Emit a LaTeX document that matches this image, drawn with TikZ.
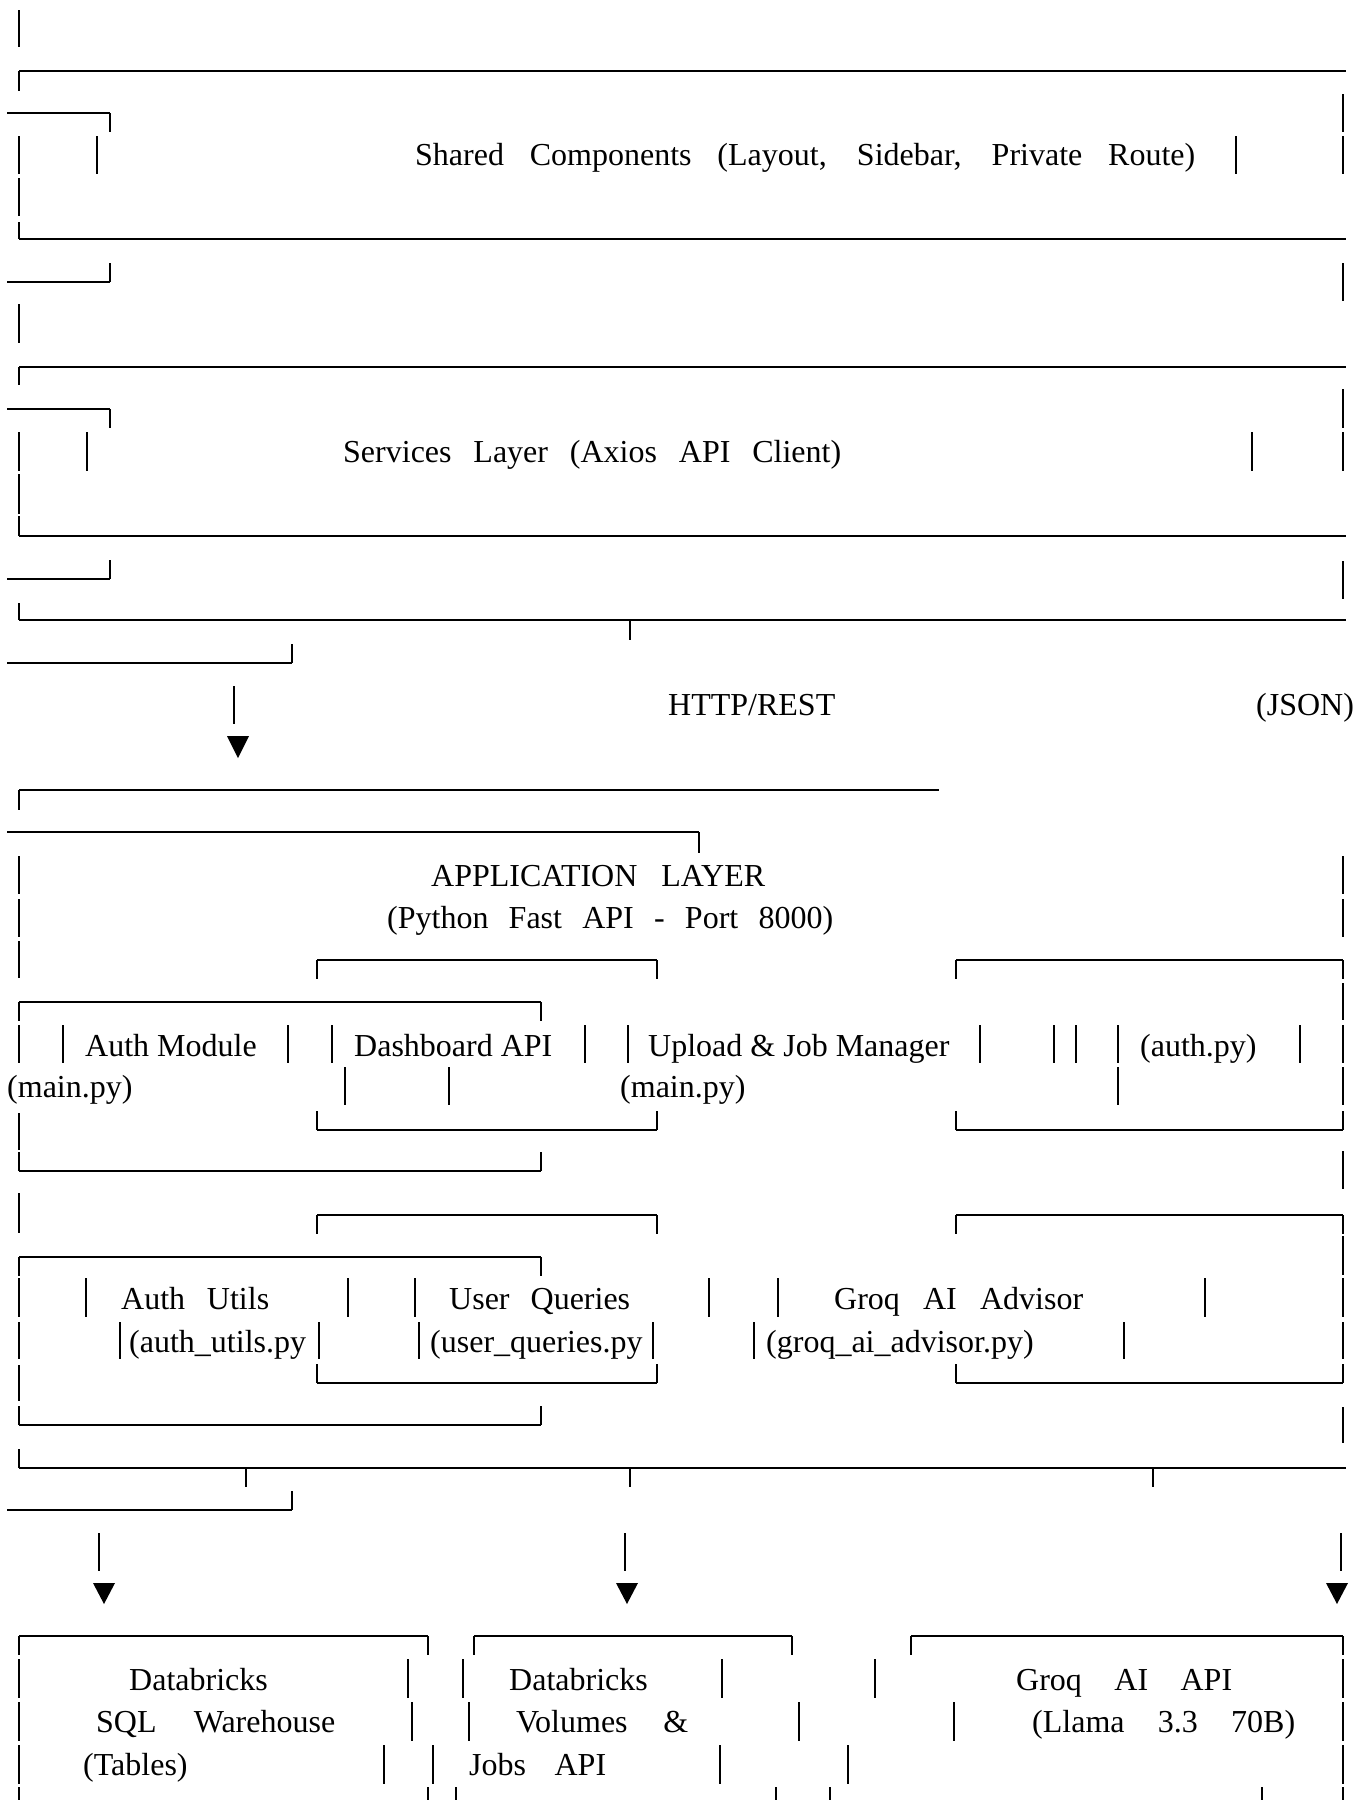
\documentclass[tikz,border=0pt]{standalone}
\usepackage{fontspec}
\setmainfont{Liberation Serif}
\usetikzlibrary{arrows.meta}
\tikzset{
  hbar/.style={line width=2.4pt},
  vbar/.style={line width=1.8pt},
  txt/.style={anchor=base west, inner sep=0pt, font=\fontsize{32}{38}\selectfont},
  tip/.style={fill=black},
}
\newcommand{\spread}[2]{\makebox[#1pt][s]{#2}}
\newcommand{\boxtop}[3]{\draw[hbar] (#1,#3) -- (#2,#3);
  \draw[vbar] (#1,#3) -- ++(0,19); \draw[vbar] (#2,#3) -- ++(0,19);}
\newcommand{\boxbot}[3]{\draw[hbar] (#1,#3) -- (#2,#3);
  \draw[vbar] (#1,#3) -- ++(0,-19); \draw[vbar] (#2,#3) -- ++(0,-19);}

\begin{document}
\begin{tikzpicture}[x=1pt, y=-1pt]
  \useasboundingbox (0,0) rectangle (1370,1800);

  % Shared components
  \draw[vbar] (19,10) -- (19,47);
  \draw[hbar] (19,71) -- (1346,71);  \draw[vbar] (19,71) -- (19,91);
  \draw[hbar] (7,113) -- (110,113);  \draw[vbar] (110,113) -- (110,132);
  \draw[vbar] (1343,94) -- (1343,132);
  \foreach \x in {19,97,1236,1343} \draw[vbar] (\x,136) -- (\x,174);
  \node[txt] (shared) at (415,165) {\spread{780}{Shared Components (Layout, Sidebar, Private Route)}};
  \draw[vbar] (19,178) -- (19,216);
  \draw[hbar] (19,239) -- (1346,239); \draw[vbar] (19,222) -- (19,239);
  \draw[hbar] (7,282) -- (110,282);   \draw[vbar] (110,263) -- (110,282);
  \draw[vbar] (1343,263) -- (1343,301);
  \draw[vbar] (19,304) -- (19,343);

  % Services layer
  \draw[hbar] (19,367) -- (1346,367); \draw[vbar] (19,367) -- (19,385);
  \draw[hbar] (7,409) -- (110,409);   \draw[vbar] (110,409) -- (110,428);
  \draw[vbar] (1343,389) -- (1343,428);
  \foreach \x in {19,87,1252,1343} \draw[vbar] (\x,432) -- (\x,471);
  \node[txt] (services) at (343,462) {\spread{498}{Services Layer (Axios API Client)}};
  \draw[vbar] (19,474) -- (19,514);
  \draw[hbar] (19,536) -- (1346,536); \draw[vbar] (19,516) -- (19,536);
  \draw[hbar] (7,579) -- (110,579);   \draw[vbar] (110,560) -- (110,579);
  \draw[vbar] (1343,561) -- (1343,599);
  \draw[vbar] (19,603) -- (19,620);
  \draw[hbar] (19,620) -- (1346,620); \draw[vbar] (630,620) -- (630,640);
  \draw[hbar] (7,663) -- (292,663);   \draw[vbar] (292,644) -- (292,663);

  % HTTP/REST link
  \draw[vbar] (234,686) -- (234,724);
  \node[txt] (http) at (668,715) {HTTP/REST};
  \node[txt] (json) at (1256,715) {(JSON)};
  \fill[tip] (227,736) -- (249,736) -- (238,758) -- cycle;

  % Application layer
  \draw[hbar] (19,790) -- (939,790);  \draw[vbar] (19,790) -- (19,810);
  \draw[hbar] (7,832) -- (699,832);   \draw[vbar] (699,832) -- (699,853);
  \foreach \x in {19,1343} \draw[vbar] (\x,856) -- (\x,894);
  \node[txt] (app) at (431,886) {\spread{334}{APPLICATION LAYER}};
  \foreach \x in {19,1343} \draw[vbar] (\x,899) -- (\x,937);
  \node[txt] (fastapi) at (387,928) {\spread{446}{(Python Fast API - Port 8000)}};
  \draw[vbar] (19,941) -- (19,978);
  \boxtop{317}{657}{960} \boxtop{956}{1343}{960}
  \draw[vbar] (1343,983) -- (1343,1020);
  \boxtop{19}{541}{1002}
  \foreach \x in {19,63,288,332,585,628,980,1054,1076,1118,1300,1343}
    \draw[vbar] (\x,1025) -- (\x,1063);
  \node[txt] (authmod) at (85,1056) {Auth Module};
  \node[txt] (dash) at (354,1056) {Dashboard API};
  \node[txt] (upload) at (648,1056) {Upload \& Job Manager};
  \node[txt] (authpy) at (1140,1056) {(auth.py)};
  \foreach \x in {345,449,1118,1343} \draw[vbar] (\x,1067) -- (\x,1105);
  \node[txt] (mainA) at (7,1097) {(main.py)};
  \node[txt] (mainB) at (620,1097) {(main.py)};
  \boxbot{317}{657}{1130} \boxbot{956}{1343}{1130}
  \draw[vbar] (19,1113) -- (19,1150);
  \boxbot{19}{541}{1171}
  \draw[vbar] (1343,1151) -- (1343,1189);
  \draw[vbar] (19,1193) -- (19,1233);
  \boxtop{317}{657}{1215} \boxtop{956}{1343}{1215}
  \draw[vbar] (1343,1236) -- (1343,1275);
  \boxtop{19}{541}{1257}
  \foreach \x in {19,86,348,415,709,778,1205,1343} \draw[vbar] (\x,1278) -- (\x,1317);
  \node[txt] (authutils) at (121,1309) {\spread{148}{Auth Utils}};
  \node[txt] (userq) at (449,1309) {\spread{181}{User Queries}};
  \node[txt] (groqadv) at (834,1309) {\spread{249}{Groq AI Advisor}};
  \foreach \x in {19,120,319,419,653,754,1124,1343} \draw[vbar] (\x,1322) -- (\x,1359);
  \node[txt] (authutilspy) at (129,1352) {(auth\_utils.py};
  \node[txt] (userqpy) at (430,1352) {(user\_queries.py};
  \node[txt] (groqadvpy) at (766,1352) {(groq\_ai\_advisor.py)};
  \boxbot{317}{657}{1383} \boxbot{956}{1343}{1383}
  \draw[vbar] (19,1365) -- (19,1401);
  \boxbot{19}{541}{1425}
  \draw[vbar] (1343,1407) -- (1343,1443);
  \draw[vbar] (19,1449) -- (19,1468);
  \draw[hbar] (19,1468) -- (1346,1468);
  \foreach \x in {246,630,1153} \draw[vbar] (\x,1468) -- (\x,1487);
  \draw[hbar] (7,1510) -- (292,1510); \draw[vbar] (292,1491) -- (292,1510);

  % Links to data services
  \foreach \x in {99,625,1341} \draw[vbar] (\x,1533) -- (\x,1571);
  \foreach \x in {104,627,1337} \fill[tip] (\x-11,1583) -- (\x+11,1583) -- (\x,1604) -- cycle;

  % Data services
  \boxtop{19}{428}{1636} \boxtop{474}{792}{1636} \boxtop{911}{1343}{1636}
  \foreach \x in {19,408,463,722,875,1343} \draw[vbar] (\x,1659) -- (\x,1698);
  \node[txt] (dbsql) at (129,1690) {Databricks};
  \node[txt] (dbvol) at (509,1690) {Databricks};
  \node[txt] (groqapi) at (1016,1690) {\spread{216}{Groq AI API}};
  \foreach \x in {19,412,469,799,954,1343} \draw[vbar] (\x,1702) -- (\x,1741);
  \node[txt] (sqlwh) at (96,1732) {\spread{239}{SQL Warehouse}};
  \node[txt] (volumes) at (516,1732) {\spread{172}{Volumes \&}};
  \node[txt] (llama) at (1032,1732) {\spread{263}{(Llama 3.3 70B)}};
  \foreach \x in {19,384,433,720,848,1343} \draw[vbar] (\x,1745) -- (\x,1784);
  \node[txt] (tables) at (83,1775) {(Tables)};
  \node[txt] (jobs) at (469,1775) {\spread{137}{Jobs API}};
  \foreach \x in {19,428,456,776,830,1262,1343} \draw[vbar] (\x,1787) -- (\x,1800);

\end{tikzpicture}
\end{document}
